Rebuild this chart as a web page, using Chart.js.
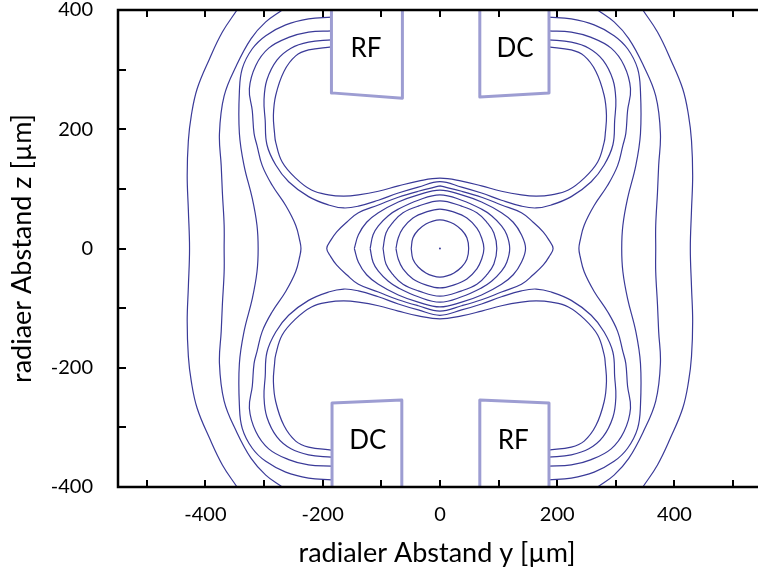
<!DOCTYPE html>
<html>
<head>
<meta charset="utf-8">
<title>Potential einer Ionenfalle</title>
<script src="https://cdn.jsdelivr.net/npm/chart.js@4.4.0/dist/chart.umd.min.js"></script>
<style>
    html, body { margin: 0; padding: 0; background: #fff; overflow: hidden; }
    #chart { display: block; }
</style>
</head>
<body>
<canvas id="chart" width="760" height="576"></canvas>
<script>
// Axis ticks (µm)
const xTickValues = [-500, -400, -300, -200, -100, 0, 100, 200, 300, 400, 500];
const xLabelValues = [-400, -200, 0, 200, 400];
const yTickValues = [-400, -300, -200, -100, 0, 100, 200, 300, 400];
const yLabelValues = [-400, -200, 0, 200, 400];

// Outer contours, running from top edge to bottom edge
const c1Left = [[-346,400],[-371,363],[-393,318],[-414,268],[-424,223],[-429,181],[-431,122],[-429,64],[-427,0],[-429,-64],[-431,-122],[-429,-181],[-424,-223],[-414,-268],[-393,-318],[-371,-363],[-346,-400]];
const c1Right = [[346,400],[371,363],[393,318],[414,268],[424,223],[429,181],[431,122],[429,64],[427,0],[429,-64],[431,-122],[429,-181],[424,-223],[414,-268],[393,-318],[371,-363],[346,-400]];
const c2Left = [[-269,400],[-297,380],[-322,352],[-347,307],[-368,256],[-376,193],[-373,139],[-371,94],[-368,39],[-368,0],[-368,-39],[-371,-94],[-373,-139],[-376,-193],[-368,-256],[-347,-307],[-322,-352],[-297,-380],[-269,-400]];
const c2Right = [[269,400],[297,380],[322,352],[347,307],[368,256],[376,193],[373,139],[371,94],[368,39],[368,0],[368,-39],[371,-94],[373,-139],[376,-193],[368,-256],[347,-307],[322,-352],[297,-380],[269,-400]];

// Contours from the upper electrode to the lower electrode
const c3Left = [[-185,388],[-224,385],[-263,375],[-297,357],[-320,335],[-337,302],[-342,263],[-342,193],[-334,139],[-320,84],[-312,39],[-310,0],[-312,-39],[-320,-84],[-334,-139],[-342,-193],[-342,-263],[-337,-302],[-320,-335],[-297,-357],[-263,-375],[-224,-385],[-185,-388]];
const c3Right = [[185,388],[224,385],[263,375],[297,357],[320,335],[337,302],[342,263],[342,193],[334,139],[320,84],[312,39],[310,0],[312,-39],[320,-84],[334,-139],[342,-193],[342,-263],[337,-302],[320,-335],[297,-357],[263,-375],[224,-385],[185,-388]];
const c4Left = [[-185,365],[-224,363],[-258,354],[-292,336],[-314,307],[-325,268],[-320,231],[-317,193],[-312,173],[-303,139],[-286,106],[-263,72],[-246,39],[-239,13],[-237,0],[-239,-13],[-246,-39],[-263,-72],[-286,-106],[-303,-139],[-312,-173],[-317,-193],[-320,-231],[-325,-268],[-314,-307],[-292,-336],[-258,-354],[-224,-363],[-185,-365]];
const c4Right = [[185,365],[224,363],[258,354],[292,336],[314,307],[325,268],[320,231],[317,193],[312,173],[303,139],[286,106],[263,72],[246,39],[239,13],[237,0],[239,-13],[246,-39],[263,-72],[286,-106],[303,-139],[312,-173],[317,-193],[320,-231],[325,-268],[314,-307],[292,-336],[258,-354],[224,-363],[185,-365]];

// Loops from one electrode to its neighbour, passing over/under the centre
const loop5Top = [[-185,350],[-224,346],[-254,336],[-278,316],[-295,283],[-300,249],[-298,215],[-295,174],[-280,140],[-258,112],[-224,87],[-190,73],[-164,68],[-139,71],[-105,81],[-71,93],[-37,103],[0,112],[37,103],[71,93],[105,81],[139,71],[164,68],[190,73],[224,87],[258,112],[280,140],[295,174],[298,215],[300,249],[295,283],[278,316],[254,336],[224,346],[185,350]];
const loop5Bottom = [[-185,-350],[-224,-346],[-254,-336],[-278,-316],[-295,-283],[-300,-249],[-298,-215],[-295,-174],[-280,-140],[-258,-112],[-224,-87],[-190,-73],[-164,-68],[-139,-71],[-105,-81],[-71,-93],[-37,-103],[0,-112],[37,-103],[71,-93],[105,-81],[139,-71],[164,-68],[190,-73],[224,-87],[258,-112],[280,-140],[295,-174],[298,-215],[300,-249],[295,-283],[278,-316],[254,-336],[224,-346],[185,-350]];
const loop6Top = [[-185,338],[-224,333],[-246,323],[-266,297],[-280,257],[-284,223],[-282,193],[-280,178],[-269,145],[-246,118],[-219,98],[-190,90],[-164,88],[-139,90],[-105,96],[-71,105],[-37,113],[0,118],[37,113],[71,105],[105,96],[139,90],[164,88],[190,90],[219,98],[246,118],[269,145],[280,178],[282,193],[284,223],[280,257],[266,297],[246,323],[224,333],[185,338]];
const loop6Bottom = [[-185,-338],[-224,-333],[-246,-323],[-266,-297],[-280,-257],[-284,-223],[-282,-193],[-280,-178],[-269,-145],[-246,-118],[-219,-98],[-190,-90],[-164,-88],[-139,-90],[-105,-96],[-71,-105],[-37,-113],[0,-118],[37,-113],[71,-105],[105,-96],[139,-90],[164,-88],[190,-90],[219,-98],[246,-118],[269,-145],[280,-178],[282,-193],[284,-223],[280,-257],[266,-297],[246,-323],[224,-333],[185,-338]];

// Closed contours around the trap centre
const eye1 = [[-49,0],[-46,18],[-37,31],[-24,41],[-12,46],[0,48],[12,46],[24,41],[37,31],[46,18],[49,0],[46,-18],[37,-31],[24,-41],[12,-46],[0,-48],[-12,-46],[-24,-41],[-37,-31],[-46,-18],[-49,0]];
const eye2 = [[-75,0],[-71,18],[-63,34],[-46,51],[-24,61],[0,66],[24,61],[46,51],[63,34],[71,18],[75,0],[71,-18],[63,-34],[46,-51],[24,-61],[0,-66],[-24,-61],[-46,-51],[-63,-34],[-71,-18],[-75,0]];
const eye3 = [[-97,0],[-92,26],[-80,44],[-63,60],[-37,71],[0,80],[37,71],[63,60],[80,44],[92,26],[97,0],[92,-26],[80,-44],[63,-60],[37,-71],[0,-80],[-37,-71],[-63,-60],[-80,-44],[-92,-26],[-97,0]];
const eye4 = [[-119,0],[-114,23],[-105,38],[-88,55],[-71,66],[-37,81],[0,90],[37,81],[71,66],[88,55],[105,38],[114,23],[119,0],[114,-23],[105,-38],[88,-55],[71,-66],[37,-81],[0,-90],[-37,-81],[-71,-66],[-88,-55],[-105,-38],[-114,-23],[-119,0]];
const eye5 = [[-146,0],[-139,23],[-125,44],[-105,60],[-71,78],[-37,90],[0,98],[37,90],[71,78],[105,60],[125,44],[139,23],[146,0],[139,-23],[125,-44],[105,-60],[71,-78],[37,-90],[0,-98],[-37,-90],[-71,-78],[-105,-60],[-125,-44],[-139,-23],[-146,0]];
const eye6 = [[0,105],[37,96],[71,86],[105,73],[139,60],[159,44],[176,28],[186,14],[193,0],[186,-14],[176,-28],[159,-44],[139,-60],[105,-73],[71,-86],[37,-96],[0,-105],[-37,-96],[-71,-86],[-105,-73],[-139,-60],[-159,-44],[-176,-28],[-186,-14],[-193,0],[-186,14],[-176,28],[-159,44],[-139,60],[-105,73],[-71,86],[-37,96],[0,105]];
const trapCentre = [[0,0]];

// Electrode outlines (open towards the plot edge)
const rfTop = [[-185,430],[-185,261],[-64,252],[-64,430]];
const dcTop = [[68,430],[68,254],[186,261],[186,430]];
const dcBottom = [[-184,-430],[-184,-259],[-65,-254],[-65,-430]];
const rfBottom = [[68,-430],[68,-254],[186,-259],[186,-430]];

// Electrode names and where they are written
const electrodeNames = ['RF', 'DC', 'DC', 'RF'];
const electrodeNameX = [-126, 128, -123, 125];
const electrodeNameY = [335, 335, -322, -322];

const CONTOUR_COLOR = '#3a3a98';
const ELECTRODE_COLOR = '#9d9dd2';
const FONT = 'Lato';

function toPoints(list) {
    return list.map(p => ({ x: p[0], y: p[1] }));
}

function contour(list) {
    return {
        data: toPoints(list),
        showLine: true,
        borderColor: CONTOUR_COLOR,
        borderWidth: 1.2,
        pointRadius: 0,
        tension: 0.4,
        clip: 0,
        order: 2
    };
}

function electrode(list) {
    return {
        data: toPoints(list),
        showLine: true,
        borderColor: ELECTRODE_COLOR,
        borderWidth: 3,
        borderJoinStyle: 'round',
        pointRadius: 0,
        tension: 0,
        clip: 0,
        order: 1
    };
}

// Frame (left, top, bottom) and inward tick marks
const framePlugin = {
    id: 'frame',
    afterDraw(chart) {
        const { ctx, chartArea: a, scales: { x, y } } = chart;
        ctx.save();
        ctx.strokeStyle = '#000';
        ctx.lineWidth = 2.5;
        ctx.beginPath();
        ctx.moveTo(a.right + 2, a.top);
        ctx.lineTo(a.left, a.top);
        ctx.lineTo(a.left, a.bottom);
        ctx.lineTo(a.right + 2, a.bottom);
        ctx.stroke();

        ctx.lineWidth = 2;
        ctx.beginPath();
        xTickValues.forEach(v => {
            const px = Math.round(x.getPixelForValue(v));
            ctx.moveTo(px, a.bottom);
            ctx.lineTo(px, a.bottom - 7);
            ctx.moveTo(px, a.top);
            ctx.lineTo(px, a.top + 7);
        });
        yTickValues.forEach(v => {
            const py = Math.round(y.getPixelForValue(v));
            ctx.moveTo(a.left, py);
            ctx.lineTo(a.left + 8, py);
        });
        ctx.stroke();
        ctx.restore();
    }
};

// Electrode names
const electrodeTextPlugin = {
    id: 'electrodeText',
    afterDatasetsDraw(chart) {
        const { ctx, scales: { x, y } } = chart;
        ctx.save();
        ctx.font = '26px ' + FONT;
        ctx.fillStyle = '#000';
        ctx.textAlign = 'center';
        ctx.textBaseline = 'middle';
        electrodeNames.forEach((name, i) => {
            ctx.fillText(name, x.getPixelForValue(electrodeNameX[i]), y.getPixelForValue(electrodeNameY[i]));
        });
        ctx.restore();
    }
};

const datasets = [
    electrode(rfTop), electrode(dcTop), electrode(dcBottom), electrode(rfBottom),
    contour(c1Left), contour(c1Right), contour(c2Left), contour(c2Right),
    contour(c3Left), contour(c3Right), contour(c4Left), contour(c4Right),
    contour(loop5Top), contour(loop5Bottom), contour(loop6Top), contour(loop6Bottom),
    contour(eye1), contour(eye2), contour(eye3), contour(eye4), contour(eye5), contour(eye6),
    {
        data: toPoints(trapCentre),
        pointRadius: 1,
        pointBackgroundColor: CONTOUR_COLOR,
        pointBorderWidth: 0,
        order: 2
    }
];

new Chart(document.getElementById('chart').getContext('2d'), {
    type: 'scatter',
    data: { datasets: datasets },
    options: {
        responsive: false,
        animation: false,
        events: [],
        layout: { padding: { top: 10, left: 0, right: 0, bottom: 0 } },
        plugins: {
            legend: { display: false },
            tooltip: { enabled: false }
        },
        scales: {
            x: {
                type: 'linear',
                min: -549,
                max: 539,
                afterBuildTicks: scale => { scale.ticks = xTickValues.map(v => ({ value: v })); },
                afterFit: scale => {
                    scale.height = 89;
                    scale.paddingLeft = 0;
                    scale.paddingRight = 0;
                },
                grid: { display: false, drawTicks: false },
                border: { display: false },
                ticks: {
                    autoSkip: false,
                    maxRotation: 0,
                    padding: 18,
                    color: '#000',
                    font: { family: FONT, size: 20, lineHeight: 1 },
                    callback: v => xLabelValues.includes(v) ? String(v) : ''
                },
                title: {
                    display: true,
                    text: 'radialer Abstand y [µm]',
                    color: '#000',
                    font: { family: FONT, size: 27 },
                    padding: { top: 0, bottom: 7 }
                }
            },
            y: {
                type: 'linear',
                min: -400,
                max: 400,
                afterBuildTicks: scale => { scale.ticks = yTickValues.map(v => ({ value: v })); },
                afterFit: scale => {
                    scale.width = 118;
                    scale.paddingTop = 0;
                    scale.paddingBottom = 0;
                },
                grid: { display: false, drawTicks: false },
                border: { display: false },
                ticks: {
                    autoSkip: false,
                    padding: 25,
                    color: '#000',
                    font: { family: FONT, size: 20, lineHeight: 1 },
                    callback: v => yLabelValues.includes(v) ? String(v) : ''
                },
                title: {
                    display: true,
                    text: 'radiaer Abstand z [µm]',
                    color: '#000',
                    font: { family: FONT, size: 27 },
                    padding: { top: 6, bottom: 0 }
                }
            }
        }
    },
    plugins: [framePlugin, electrodeTextPlugin]
});
</script>
</body>
</html>
